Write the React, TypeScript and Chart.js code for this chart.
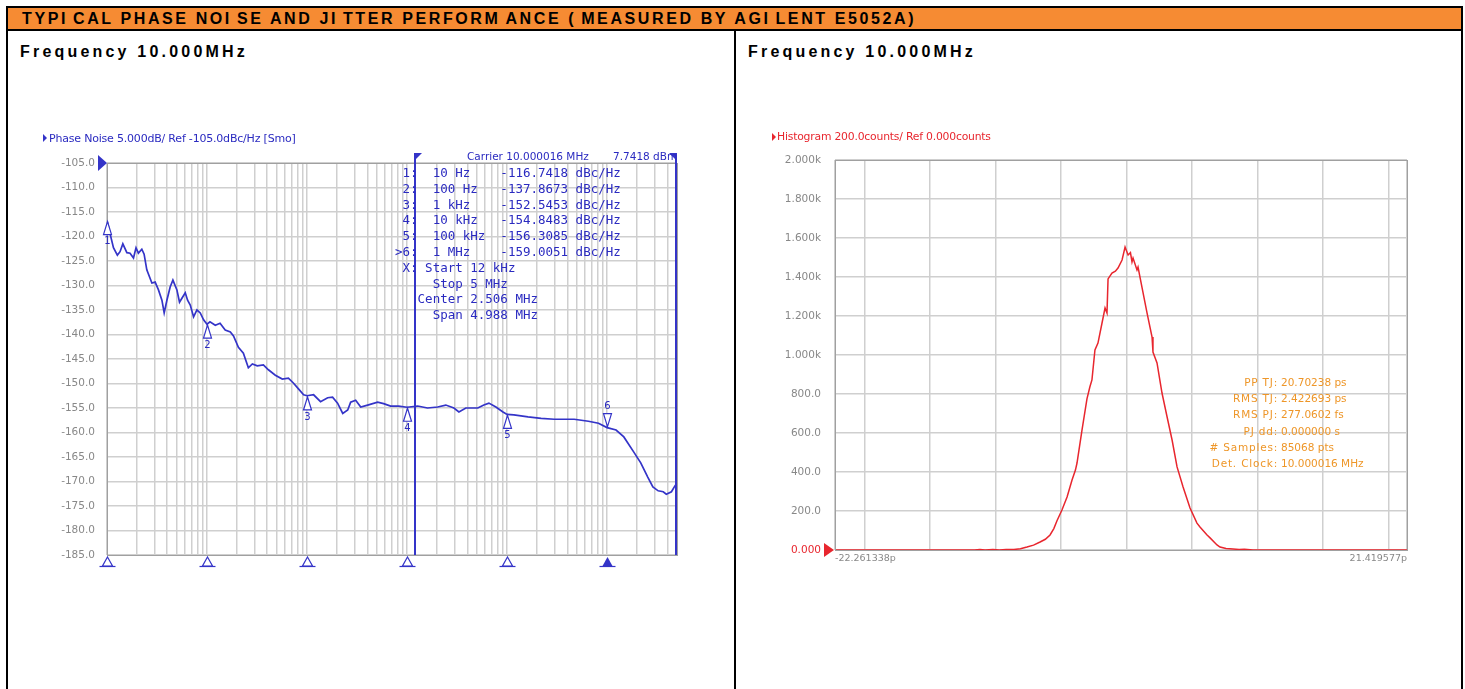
import React, { useEffect, useRef } from "react";
import { Chart, registerables } from "chart.js";

Chart.register(...registerables);

const BLUE = "#3434c8";
const BLUE_TEXT = "#2a2ac0";
const RED = "#e8262e";
const ORANGE_TEXT = "#ee9628";
const GRID = "#cfcfcf";
const FRAME = "#a0a0a0";
const TICK = "#888888";
const SANS = "'DejaVu Sans', sans-serif";
const MONO = "'DejaVu Sans Mono', monospace";
const BOLD = "'Liberation Sans', Arial, sans-serif";

const headerTitle = "TYPICAL PHASE NOISE AND JITTER PERFORMANCE (MEASURED BY AGILENT E5052A)";
const panelTitles = ["Frequency 10.000MHz", "Frequency 10.000MHz"];

// ---------- Phase noise ----------
const pnTitle = "Phase Noise 5.000dB/ Ref -105.0dBc/Hz [Smo]";
const pnCarrier = "Carrier 10.000016 MHz";
const pnCarrierPower = "7.7418 dBm";
const pnFreqHz = [10, 10.7, 11.6, 12.7, 13.5, 14.4, 15.8, 17.0, 18.4, 19.5, 20.6, 22.3, 23.5, 25.0, 28.1, 30.3, 32.7, 35.4, 37.3, 39.7, 42.8, 45.6, 50.0, 53.1, 56.1, 60.6, 63.9, 68.0, 73.4, 79.3, 85.6, 92.4, 100, 107, 121, 135, 152, 171, 184, 206, 231, 259, 284, 318, 366, 411, 482, 566, 651, 730, 821, 924, 1000, 1163, 1365, 1607, 1800, 2020, 2275, 2551, 2730, 3064, 3441, 4037, 5077, 5830, 6850, 8240, 10000, 12760, 16000, 20200, 24400, 29400, 33000, 38700, 51000, 58600, 65800, 77300, 91000, 100000, 117000, 162000, 219000, 296000, 469000, 650000, 820000, 1000000, 1230000, 1470000, 1850000, 2170000, 2550000, 2870000, 3240000, 3640000, 3910000, 4400000, 4700000, 5000000];
const pnDbc = [-116.7, -119.3, -122.3, -123.8, -123.1, -121.5, -123.3, -123.4, -124.4, -122.3, -123.4, -122.6, -123.6, -126.8, -129.5, -129.3, -130.9, -133.0, -135.6, -133.0, -130.3, -128.9, -130.9, -133.4, -132.6, -131.5, -133.0, -134.0, -136.4, -135.0, -135.6, -137.0, -137.9, -137.4, -138.1, -137.7, -139.1, -139.5, -140.3, -142.6, -143.8, -146.8, -146.0, -146.4, -146.2, -147.2, -148.3, -149.1, -148.9, -149.9, -151.1, -152.3, -152.5, -152.3, -153.7, -152.9, -152.8, -154.0, -156.1, -155.4, -153.8, -153.4, -154.8, -154.4, -153.8, -154.1, -154.6, -154.6, -154.85, -154.6, -155.0, -154.8, -154.4, -155.0, -155.8, -155.0, -155.0, -154.4, -154.0, -154.8, -155.8, -156.3, -156.4, -156.8, -157.1, -157.3, -157.3, -157.7, -158.1, -159.0, -159.5, -160.9, -164.0, -166.2, -169.1, -171.1, -171.9, -172.1, -172.6, -172.1, -171.1, -170.3];
const pnMarkerFreqHz = [10, 100, 1000, 10000, 100000, 1000000];
const pnMarkerDbc = [-116.7418, -137.8673, -152.5453, -154.8483, -156.3085, -159.0051];
const pnMarkerTable = [
  " 1:  10 Hz    -116.7418 dBc/Hz",
  " 2:  100 Hz   -137.8673 dBc/Hz",
  " 3:  1 kHz    -152.5453 dBc/Hz",
  " 4:  10 kHz   -154.8483 dBc/Hz",
  " 5:  100 kHz  -156.3085 dBc/Hz",
  ">6:  1 MHz    -159.0051 dBc/Hz",
  " X: Start 12 kHz",
  "     Stop 5 MHz",
  "   Center 2.506 MHz",
  "     Span 4.988 MHz",
];
const pnFreqMin = 10;
const pnFreqMax = 5000000;
const pnDbMin = -185;
const pnDbMax = -105;
const pnDbStep = 5;
const pnIntegrationHz = [12000, 5000000];
const pnDecades = [10, 100, 1000, 10000, 100000, 1000000];
const pnGridMultipliers = [1, 2, 3, 4, 5, 6, 7, 8, 9];

// ---------- Histogram ----------
const histTitle = "Histogram 200.0counts/ Ref 0.000counts";
const histTimePs = [-22.261338, -11.6, -11.2, -10.8, -10.2, -9.7, -9.2, -8.6, -8.1, -7.6, -7.1, -6.6, -6.2, -5.84, -5.55, -5.31, -4.93, -4.54, -4.16, -3.9, -3.78, -3.4, -3.02, -2.8, -2.64, -2.41, -2.18, -1.87, -1.64, -1.49, -1.41, -1.11, -0.85, -0.65, -0.34, -0.11, 0.12, 0.3, 0.42, 0.5, 0.8, 0.88, 1.19, 1.57, 1.95, 2.02, 2.33, 2.71, 3.1, 3.48, 3.86, 4.32, 4.85, 5.38, 5.61, 6.15, 6.38, 6.91, 7.14, 7.6, 8.13, 8.6, 9.0, 9.66, 21.419577];
const histCounts = [0, 0, 3, 0, 2, 0, 3, 2, 6, 15, 25, 41, 55, 77, 110, 150, 205, 272, 359, 410, 446, 615, 775, 836, 872, 1026, 1061, 1164, 1241, 1215, 1390, 1420, 1430, 1446, 1487, 1554, 1513, 1525, 1477, 1497, 1436, 1451, 1344, 1215, 1092, 1015, 959, 805, 682, 564, 426, 323, 215, 138, 118, 77, 62, 26, 15, 8, 5, 3, 4, 0, 0];
const histXMin = -22.261338;
const histXMax = 21.419577;
const histXLabels = ["-22.261338p", "21.419577p"];
const histGridPs = [-20, -15, -10, -5, 0, 5, 10, 15, 20];
const histYMax = 2000;
const histYStep = 200;
const jitterLabels = ["PP TJ:", "RMS TJ:", "RMS PJ:", "PJ dd:", "# Samples:", "Det. Clock:"];
const jitterValues = ["20.70238 ps", "2.422693 ps", "277.0602 fs", "0.000000 s", "85068 pts", "10.000016 MHz"];

const pnGridFreqs: number[] = [];
pnDecades.forEach((d) => pnGridMultipliers.forEach((m) => { if (d * m <= pnFreqMax) pnGridFreqs.push(d * m); }));
pnGridFreqs.push(pnFreqMax);

function PhaseNoiseChart() {
  const ref = useRef<HTMLCanvasElement>(null);
  useEffect(() => {
    const overlay = {
      id: "pnOverlay",
      afterDraw(chart: any) {
        const { ctx, chartArea: a } = chart;
        const xs = chart.scales.x;
        const ys = chart.scales.y;
        ctx.save();
        ctx.strokeStyle = FRAME;
        ctx.lineWidth = 1;
        ctx.strokeRect(Math.round(a.left) + 0.5, Math.round(a.top) + 0.5, Math.round(a.right - a.left), Math.round(a.bottom - a.top));
        const yRef = ys.getPixelForValue(pnDbMax);
        ctx.fillStyle = BLUE;
        ctx.beginPath();
        ctx.moveTo(a.left - 9, yRef - 8);
        ctx.lineTo(a.left, yRef);
        ctx.lineTo(a.left - 9, yRef + 8);
        ctx.closePath();
        ctx.fill();
        ctx.strokeStyle = BLUE;
        ctx.lineWidth = 2;
        pnIntegrationHz.forEach((f, i) => {
          const px = Math.round(xs.getPixelForValue(f)) - (i === 1 ? 1 : 0);
          ctx.beginPath();
          ctx.moveTo(px, a.top - 9);
          ctx.lineTo(px, a.bottom);
          ctx.stroke();
          ctx.beginPath();
          if (i === 0) {
            ctx.moveTo(px - 1, a.top - 10);
            ctx.lineTo(px + 7, a.top - 10);
            ctx.lineTo(px - 1, a.top - 2);
          } else {
            ctx.moveTo(px + 1, a.top - 10);
            ctx.lineTo(px - 7, a.top - 10);
            ctx.lineTo(px + 1, a.top - 2);
          }
          ctx.closePath();
          ctx.fill();
        });
        ctx.lineWidth = 1.2;
        ctx.font = `10px ${SANS}`;
        ctx.textAlign = "center";
        ctx.textBaseline = "top";
        pnMarkerFreqHz.forEach((f, i) => {
          const px = Math.round(xs.getPixelForValue(f)) + 0.5;
          const py = ys.getPixelForValue(pnMarkerDbc[i]);
          const active = i === pnMarkerFreqHz.length - 1;
          ctx.beginPath();
          if (!active) {
            ctx.moveTo(px, py + 1);
            ctx.lineTo(px + 4, py + 14);
            ctx.lineTo(px - 4, py + 14);
          } else {
            ctx.moveTo(px, py - 1);
            ctx.lineTo(px + 4, py - 14);
            ctx.lineTo(px - 4, py - 14);
          }
          ctx.closePath();
          ctx.fillStyle = "#ffffff";
          ctx.fill();
          ctx.strokeStyle = BLUE;
          ctx.stroke();
          ctx.fillStyle = BLUE_TEXT;
          ctx.fillText(String(i + 1), px, active ? py - 26 : py + 16);
          const by = a.bottom;
          ctx.beginPath();
          ctx.moveTo(px, by + 2);
          ctx.lineTo(px + 5, by + 11);
          ctx.lineTo(px - 5, by + 11);
          ctx.closePath();
          if (active) {
            ctx.fillStyle = BLUE;
            ctx.fill();
          } else {
            ctx.fillStyle = "#ffffff";
            ctx.fill();
            ctx.stroke();
          }
          ctx.beginPath();
          ctx.moveTo(px - 8, by + 11.5);
          ctx.lineTo(px + 8, by + 11.5);
          ctx.stroke();
        });
        ctx.restore();
      },
    };
    const chart = new Chart(ref.current as HTMLCanvasElement, {
      type: "line",
      data: {
        datasets: [
          {
            data: pnFreqHz.map((f, i) => ({ x: f, y: pnDbc[i] })),
            borderColor: BLUE,
            borderWidth: 1.7,
            pointRadius: 0,
            tension: 0,
            fill: false,
          },
        ],
      },
      options: {
        responsive: false,
        animation: false,
        devicePixelRatio: 1,
        events: [],
        layout: { padding: { top: 43, right: 23, left: 0, bottom: 0 } },
        plugins: { legend: { display: false }, tooltip: { enabled: false } },
        scales: {
          x: {
            type: "logarithmic",
            min: pnFreqMin,
            max: pnFreqMax,
            afterBuildTicks: (s: any) => {
              s.ticks = pnGridFreqs.map((v) => ({ value: v }));
            },
            afterFit: (s: any) => {
              s.height = 25;
            },
            ticks: { display: false },
            grid: { color: GRID, lineWidth: 1.5, drawTicks: false },
            border: { display: false },
          },
          y: {
            type: "linear",
            min: pnDbMin,
            max: pnDbMax,
            afterFit: (s: any) => {
              s.width = 87;
            },
            ticks: {
              stepSize: pnDbStep,
              color: TICK,
              padding: 12,
              font: { family: SANS, size: 10.5 },
              callback: (v: any) => Number(v).toFixed(1),
            },
            grid: { color: GRID, lineWidth: 1.5, drawTicks: false },
            border: { display: false },
          },
        },
      } as any,
      plugins: [overlay],
    });
    return () => chart.destroy();
  }, []);
  return (
    <canvas
      ref={ref}
      width={680}
      height={460}
      style={{ position: "absolute", left: 20, top: 120, width: 680, height: 460 }}
    />
  );
}

function HistogramChart() {
  const ref = useRef<HTMLCanvasElement>(null);
  useEffect(() => {
    const overlay = {
      id: "histOverlay",
      afterDraw(chart: any) {
        const { ctx, chartArea: a } = chart;
        const ys = chart.scales.y;
        ctx.save();
        ctx.strokeStyle = FRAME;
        ctx.lineWidth = 1;
        ctx.strokeRect(Math.round(a.left) + 0.5, Math.round(a.top) + 0.5, Math.round(a.right - a.left), Math.round(a.bottom - a.top));
        const y0 = ys.getPixelForValue(0);
        ctx.fillStyle = RED;
        ctx.beginPath();
        ctx.moveTo(a.left - 11, y0 - 7);
        ctx.lineTo(a.left - 1, y0);
        ctx.lineTo(a.left - 11, y0 + 7);
        ctx.closePath();
        ctx.fill();
        ctx.restore();
      },
    };
    const chart = new Chart(ref.current as HTMLCanvasElement, {
      type: "line",
      data: {
        datasets: [
          {
            data: histTimePs.map((t, i) => ({ x: t, y: histCounts[i] })),
            borderColor: RED,
            borderWidth: 1.5,
            pointRadius: 0,
            tension: 0,
            fill: false,
            clip: 4,
          },
        ],
      },
      options: {
        responsive: false,
        animation: false,
        devicePixelRatio: 1,
        events: [],
        layout: { padding: { top: 40, right: 33, left: 0, bottom: 0 } },
        plugins: { legend: { display: false }, tooltip: { enabled: false } },
        scales: {
          x: {
            type: "linear",
            min: histXMin,
            max: histXMax,
            afterBuildTicks: (s: any) => {
              s.ticks = [histXMin, ...histGridPs, histXMax].map((v) => ({ value: v }));
            },
            afterFit: (s: any) => {
              s.height = 30;
            },
            ticks: {
              autoSkip: false,
              maxRotation: 0,
              minRotation: 0,
              align: "inner",
              padding: 3,
              color: TICK,
              font: { family: SANS, size: 9.5 },
              callback: (v: any, i: number, arr: any[]) =>
                i === 0 ? histXLabels[0] : i === arr.length - 1 ? histXLabels[1] : "",
            },
            grid: { color: GRID, lineWidth: 1.5, drawTicks: false },
            border: { display: false },
          },
          y: {
            type: "linear",
            min: 0,
            max: histYMax,
            afterFit: (s: any) => {
              s.width = 87;
            },
            ticks: {
              stepSize: histYStep,
              padding: 14,
              font: { family: SANS, size: 10.5 },
              color: (c: any) => (c.tick && c.tick.value === 0 ? RED : TICK),
              callback: (v: any) => {
                const n = Number(v);
                if (n === 0) return "0.000";
                if (n >= 1000) return (n / 1000).toFixed(3) + "k";
                return n.toFixed(1);
              },
            },
            grid: { color: GRID, lineWidth: 1.5, drawTicks: false },
            border: { display: false },
          },
        },
      } as any,
      plugins: [overlay],
    });
    return () => chart.destroy();
  }, []);
  return (
    <canvas
      ref={ref}
      width={692}
      height={460}
      style={{ position: "absolute", left: 748, top: 120, width: 692, height: 460 }}
    />
  );
}

const box = (left: number, top: number, width: number, height: number, bg: string): React.CSSProperties => ({
  position: "absolute",
  left,
  top,
  width,
  height,
  background: bg,
});

const txt = (left: number, top: number, size: number, color: string, family: string, extra: React.CSSProperties = {}): React.CSSProperties => ({
  position: "absolute",
  left,
  top,
  fontSize: size,
  lineHeight: `${size}px`,
  color,
  fontFamily: family,
  whiteSpace: "pre",
  ...extra,
});

function Tri({ left, top, color }: { left: number; top: number; color: string }) {
  return (
    <div
      style={{
        position: "absolute",
        left,
        top,
        width: 0,
        height: 0,
        borderTop: "4px solid transparent",
        borderBottom: "4px solid transparent",
        borderLeft: `4px solid ${color}`,
      }}
    />
  );
}

// The printed header shows extra gaps after some glyphs (I, the M of PERFORM, "(").
function HeaderText({ text }: { text: string }) {
  const parts: React.ReactNode[] = [];
  for (let i = 0; i < text.length; i++) {
    const ch = text[i];
    const gap = ch === "I" || ch === "(" || text.slice(i - 6, i + 1) === "PERFORM";
    parts.push(gap ? <span key={i} style={{ marginRight: 5 }}>{ch}</span> : ch);
  }
  return <>{parts}</>;
}

export default function App() {
  return (
    <div style={{ position: "absolute", left: 0, top: 0, width: 1465, height: 689, overflow: "hidden", background: "#ffffff" }}>
      <div style={box(8, 8, 1453, 21, "#F68B33")} />
      <div style={box(6, 6, 1457, 2, "#000")} />
      <div style={box(6, 29, 1457, 2, "#000")} />
      <div style={box(6, 6, 2, 700, "#000")} />
      <div style={box(734, 29, 2, 700, "#000")} />
      <div style={box(1461, 6, 2, 700, "#000")} />
      <div style={txt(22, 11, 16, "#000", BOLD, { fontWeight: 700, letterSpacing: "2.6px" })}>
        <HeaderText text={headerTitle} />
      </div>
      <div style={txt(20, 44, 16, "#000", BOLD, { fontWeight: 700, letterSpacing: "3.2px" })}>{panelTitles[0]}</div>
      <div style={txt(748, 44, 16, "#000", BOLD, { fontWeight: 700, letterSpacing: "3.2px" })}>{panelTitles[1]}</div>

      <PhaseNoiseChart />
      <HistogramChart />

      <Tri left={43} top={134} color={BLUE} />
      <div style={txt(49, 133, 11, BLUE_TEXT, SANS, { letterSpacing: "-0.2px" })}>{pnTitle}</div>
      <div style={txt(467, 151, 10.5, BLUE_TEXT, SANS)}>{pnCarrier}</div>
      <div style={txt(613, 151, 10.5, BLUE_TEXT, SANS)}>{pnCarrierPower}</div>
      {pnMarkerTable.map((row, i) => (
        <div key={i} style={txt(395, 167 + i * 15.8, 12.5, BLUE_TEXT, MONO)}>
          {row}
        </div>
      ))}

      <Tri left={772} top={133} color={RED} />
      <div style={txt(777, 132, 10.8, RED, SANS, { letterSpacing: "-0.2px" })}>{histTitle}</div>
      {jitterLabels.map((l, i) => (
        <div key={"l" + i} style={txt(1140, 377 + i * 16.2, 10.5, ORANGE_TEXT, SANS, { width: 138, textAlign: "right", letterSpacing: "0.8px" })}>
          {l}
        </div>
      ))}
      {jitterValues.map((v, i) => (
        <div key={"v" + i} style={txt(1281, 377 + i * 16.2, 10.5, ORANGE_TEXT, SANS)}>
          {v}
        </div>
      ))}
    </div>
  );
}
